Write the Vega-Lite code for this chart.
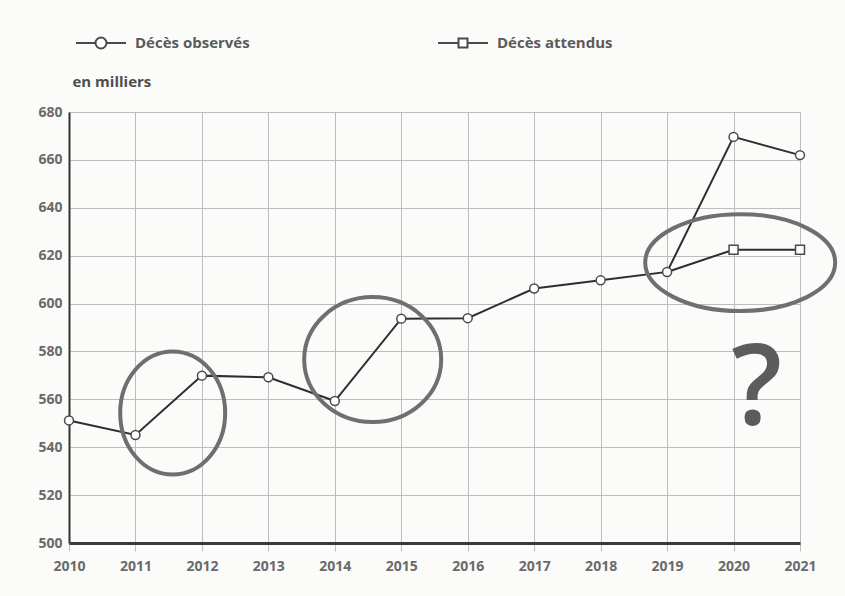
{
  "$schema": "https://vega.github.io/schema/vega-lite/v6.json",
  "width": 731,
  "height": 431,
  "autosize": {"type": "none"},
  "padding": {"left": 69, "top": 112, "right": 45, "bottom": 53},
  "background": "#fbfbf9",
  "config": {
    "view": {"stroke": null},
    "font": "Open Sans",
    "axis": {
      "labelFont": "Open Sans",
      "labelFontSize": 14,
      "labelFontWeight": "bold",
      "labelColor": "#6a6a6a",
      "gridColor": "#bdbdbd",
      "gridWidth": 1,
      "domainColor": "#333333"
    },
    "legend": {
      "title": null,
      "orient": "none",
      "direction": "horizontal",
      "padding": 0,
      "symbolSize": 2500,
      "symbolStrokeWidth": 2,
      "labelFont": "Open Sans",
      "labelFontSize": 15,
      "labelFontWeight": "bold",
      "labelColor": "#5a5a5a",
      "labelOffset": 8
    }
  },
  "datasets": {
    "deces": [
      {"annee": 2010, "serie": "Décès observés", "deces": 551.2},
      {"annee": 2011, "serie": "Décès observés", "deces": 545.1},
      {"annee": 2012, "serie": "Décès observés", "deces": 569.9},
      {"annee": 2013, "serie": "Décès observés", "deces": 569.2},
      {"annee": 2014, "serie": "Décès observés", "deces": 559.3},
      {"annee": 2015, "serie": "Décès observés", "deces": 593.7},
      {"annee": 2016, "serie": "Décès observés", "deces": 593.9},
      {"annee": 2017, "serie": "Décès observés", "deces": 606.3},
      {"annee": 2018, "serie": "Décès observés", "deces": 609.7},
      {"annee": 2019, "serie": "Décès observés", "deces": 613.2},
      {"annee": 2020, "serie": "Décès observés", "deces": 669.6},
      {"annee": 2021, "serie": "Décès observés", "deces": 662.0},
      {"annee": 2019, "serie": "Décès attendus", "deces": 613.2},
      {"annee": 2020, "serie": "Décès attendus", "deces": 622.5},
      {"annee": 2021, "serie": "Décès attendus", "deces": 622.5}
    ]
  },
  "data": {"name": "deces"},
  "encoding": {
    "x": {
      "field": "annee",
      "type": "quantitative",
      "scale": {"domain": [2010, 2021], "nice": false, "zero": false},
      "axis": {
        "title": null,
        "values": [2010, 2011, 2012, 2013, 2014, 2015, 2016, 2017, 2018, 2019, 2020, 2021],
        "format": "d",
        "grid": true,
        "ticks": true,
        "tickSize": 8,
        "tickColor": "#bdbdbd",
        "domainWidth": 3,
        "domainColor": "#3a3a3a",
        "labelPadding": 8,
        "labelFlush": false
      }
    },
    "y": {
      "field": "deces",
      "type": "quantitative",
      "scale": {"domain": [500, 680], "nice": false, "zero": false},
      "axis": {
        "values": [500, 520, 540, 560, 580, 600, 620, 640, 660, 680],
        "grid": true,
        "ticks": false,
        "domainWidth": 2,
        "labelPadding": 7,
        "title": "en milliers",
        "titleAngle": 0,
        "titleAlign": "left",
        "titleBaseline": "alphabetic",
        "titleX": 3,
        "titleY": -26,
        "titleFont": "Open Sans",
        "titleFontSize": 15,
        "titleFontWeight": "bold",
        "titleColor": "#4d4d4d"
      }
    }
  },
  "layer": [
    {
      "mark": {"type": "line", "color": "#2e2e2e", "strokeWidth": 2},
      "encoding": {"detail": {"field": "serie", "type": "nominal"}}
    },
    {
      "data": {"values": [{"annee": 2011.56, "deces": 554.3}]},
      "mark": {
        "type": "point",
        "filled": false,
        "shape": "M-1,0A1,1.171,0,1,0,1,0A1,1.171,0,1,0,-1,0Z",
        "size": 11025,
        "stroke": "#6f6f6f",
        "strokeWidth": 4,
        "opacity": 1
      }
    },
    {
      "data": {"values": [{"annee": 2014.57, "deces": 576.6}]},
      "mark": {
        "type": "point",
        "filled": false,
        "shape": "M-1,0A1,0.912,0,1,0,1,0A1,0.912,0,1,0,-1,0Z",
        "size": 18769,
        "stroke": "#6f6f6f",
        "strokeWidth": 4,
        "opacity": 1
      }
    },
    {
      "data": {"values": [{"annee": 2020.1, "deces": 617.1}]},
      "mark": {
        "type": "point",
        "filled": false,
        "shape": "M-1,0A1,0.51,0,1,0,1,0A1,0.51,0,1,0,-1,0Z",
        "size": 36100,
        "stroke": "#6f6f6f",
        "strokeWidth": 4,
        "opacity": 1
      }
    },
    {
      "transform": [{"filter": "datum.serie == 'Décès observés'"}],
      "mark": {
        "type": "point",
        "shape": "circle",
        "filled": false,
        "fill": "white",
        "strokeWidth": 1.5,
        "size": 80,
        "opacity": 1
      },
      "encoding": {
        "color": {
          "field": "serie",
          "type": "nominal",
          "scale": {"domain": ["Décès observés"], "range": ["#4a4a4a"]},
          "legend": {
            "legendX": 6,
            "legendY": -95,
            "symbolType": "M-1,0L-0.22,0M0.22,0L1,0M-0.22,0A0.22,0.22,0,1,1,0.22,0A0.22,0.22,0,1,1,-0.22,0Z"
          }
        }
      }
    },
    {
      "transform": [{"filter": "datum.serie == 'Décès attendus' && datum.annee > 2019"}],
      "mark": {
        "type": "point",
        "shape": "square",
        "filled": false,
        "fill": "white",
        "strokeWidth": 1.5,
        "size": 80,
        "opacity": 1
      },
      "encoding": {
        "stroke": {
          "field": "serie",
          "type": "nominal",
          "scale": {"domain": ["Décès attendus"], "range": ["#4a4a4a"]},
          "legend": {
            "legendX": 368,
            "legendY": -95,
            "symbolType": "M-1,0L-0.18,0M0.18,0L1,0M-0.18,-0.18L0.18,-0.18L0.18,0.18L-0.18,0.18Z"
          }
        }
      }
    },
    {
      "data": {"values": [{"annee": 2020.35, "deces": 549.3, "note": "?"}]},
      "mark": {
        "type": "text",
        "font": "Open Sans",
        "fontSize": 112,
        "fontWeight": 600,
        "color": "#5c5c5c",
        "align": "center",
        "baseline": "alphabetic"
      },
      "encoding": {"text": {"field": "note", "type": "nominal"}}
    }
  ]
}
